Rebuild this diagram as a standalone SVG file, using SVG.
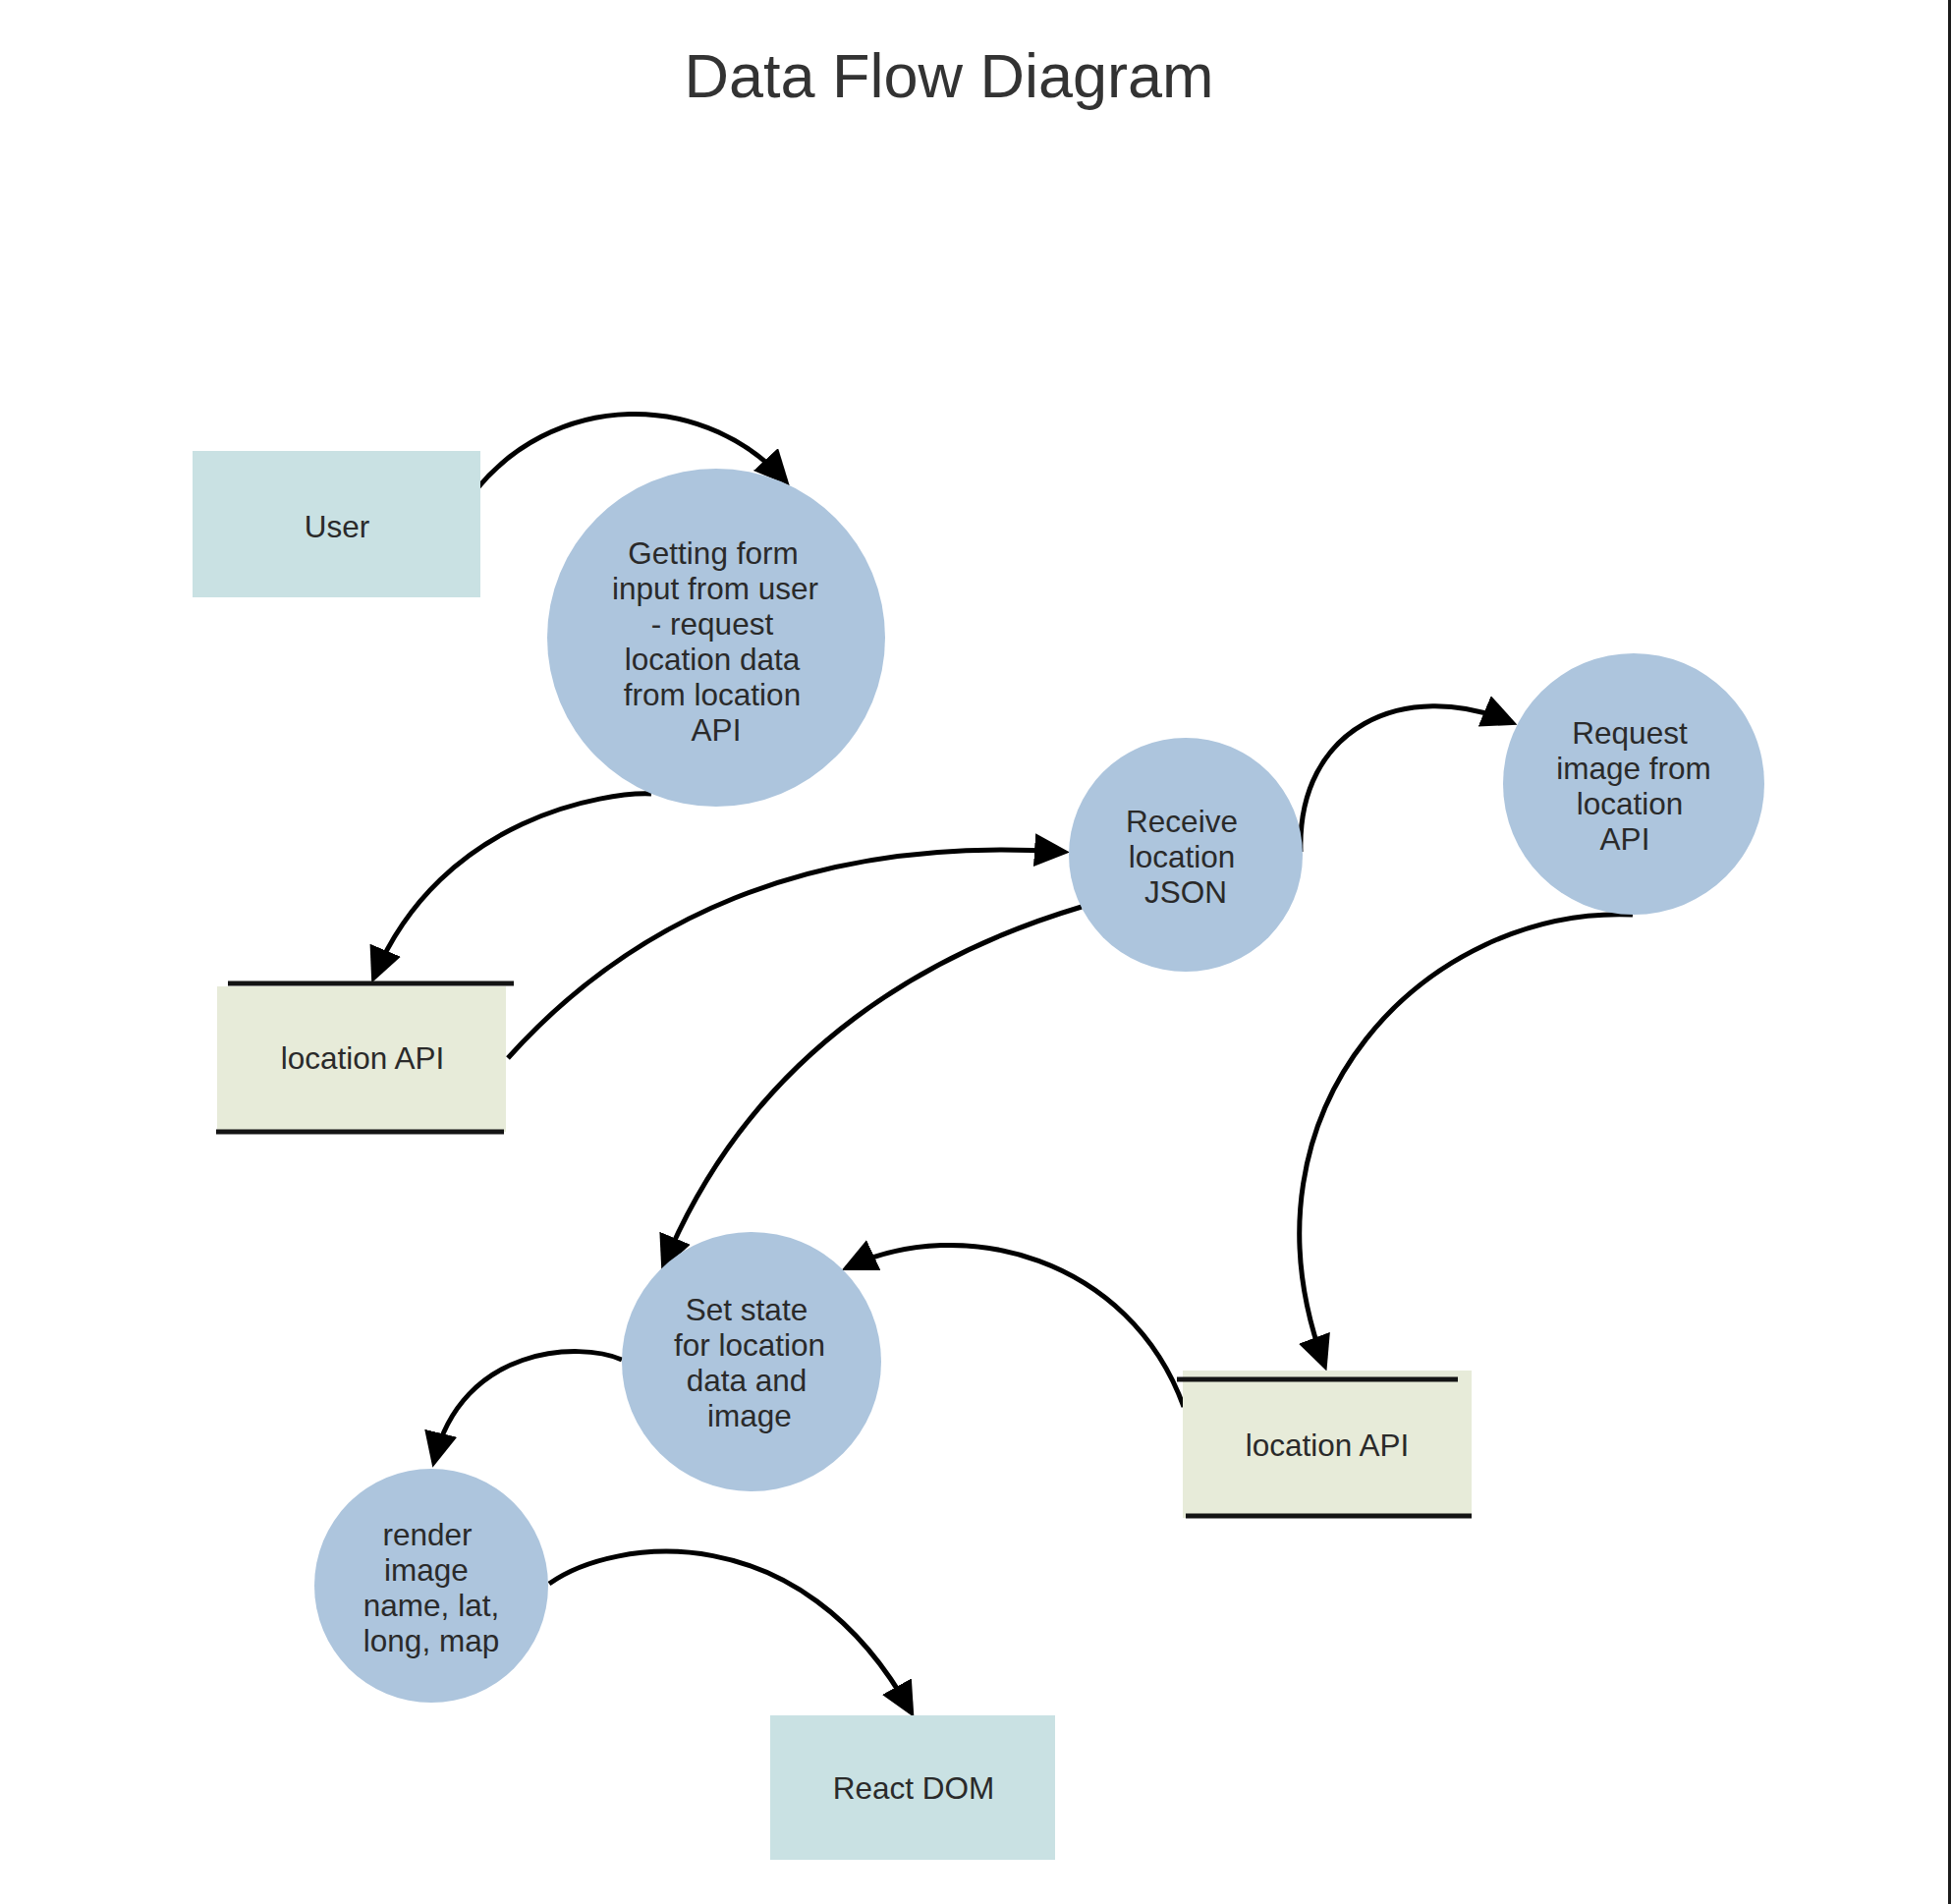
<svg xmlns="http://www.w3.org/2000/svg" width="1986" height="1938" viewBox="0 0 1986 1938">
<style>
  .title { font-family: "Liberation Sans", Arial, sans-serif; font-size: 63px; fill: #333333; text-anchor: middle; }
  .lbl { font-family: "Liberation Sans", Arial, sans-serif; font-size: 31.5px; fill: #2a2a2a; text-anchor: middle; }
  .ext { fill: #c9e1e3; }
  .proc { fill: #adc5dd; }
  .store { fill: #e7ebd9; }
  .storeline { stroke: #141414; stroke-width: 5; fill: none; }
  .flow { fill: none; stroke: #000000; stroke-width: 5; marker-end: url(#arrow); }
</style>
<defs>
  <marker id="arrow" markerUnits="userSpaceOnUse" markerWidth="38" markerHeight="36" refX="29" refY="17" orient="auto">
    <path d="M0,0 L36,17 L0,34 Z" fill="#000000"/>
  </marker>
</defs>
<rect x="0" y="0" width="1986" height="1938" fill="#ffffff"/>
<rect x="1983" y="0" width="3" height="1938" fill="#1c1c1c"/>
<text class="title" x="966" y="99">Data Flow Diagram</text>

<g id="connectors">
  <path class="flow" d="M486,497 A207,207 0 0 1 799,489"/>
  <path class="flow" d="M663,808 C620,806 450,830 381,994"/>
  <path class="flow" d="M517,1077 C640,940 820,850 1082,867"/>
  <path class="flow" d="M1324,867 C1320,740 1430,690 1538,735"/>
  <path class="flow" d="M1662,931 C1455,922 1250,1125 1348,1389"/>
  <path class="flow" d="M1205,1432 C1150,1280 980,1235 863,1290"/>
  <path class="flow" d="M1101,923 C960,965 770,1060 676,1287"/>
  <path class="flow" d="M633,1384 C590,1365 470,1370 442,1487"/>
  <path class="flow" d="M559,1612 C625,1565 815,1540 927,1742"/>
</g>

<g id="user">
  <rect class="ext" x="196" y="459" width="293" height="149"/>
  <text class="lbl" x="343" y="547">User</text>
</g>

<g id="getting-form">
  <circle class="proc" cx="729" cy="649" r="172"/>
  <text class="lbl" x="726" y="574">Getting form</text>
  <text class="lbl" x="728" y="610">input from user</text>
  <text class="lbl" x="725" y="646">- request</text>
  <text class="lbl" x="725" y="682">location data</text>
  <text class="lbl" x="725" y="718">from location</text>
  <text class="lbl" x="729" y="754">API</text>
</g>

<g id="location-api-1">
  <rect class="store" x="221" y="1004" width="294" height="148"/>
  <line class="storeline" x1="232" y1="1001" x2="523" y2="1001"/>
  <line class="storeline" x1="220" y1="1152" x2="513" y2="1152"/>
  <text class="lbl" x="369" y="1088">location API</text>
</g>

<g id="receive-json">
  <circle class="proc" cx="1207" cy="870" r="119"/>
  <text class="lbl" x="1203" y="847">Receive</text>
  <text class="lbl" x="1203" y="883">location</text>
  <text class="lbl" x="1207" y="919">JSON</text>
</g>

<g id="request-image">
  <circle class="proc" cx="1663" cy="798" r="133"/>
  <text class="lbl" x="1659" y="757">Request</text>
  <text class="lbl" x="1663" y="793">image from</text>
  <text class="lbl" x="1659" y="829">location</text>
  <text class="lbl" x="1654" y="865">API</text>
</g>

<g id="location-api-2">
  <rect class="store" x="1204" y="1395" width="294" height="150"/>
  <line class="storeline" x1="1198" y1="1404" x2="1484" y2="1404"/>
  <line class="storeline" x1="1207" y1="1543" x2="1498" y2="1543"/>
  <text class="lbl" x="1351" y="1482">location API</text>
</g>

<g id="set-state">
  <circle class="proc" cx="765" cy="1386" r="132"/>
  <text class="lbl" x="760" y="1344">Set state</text>
  <text class="lbl" x="763" y="1380">for location</text>
  <text class="lbl" x="760" y="1416">data and</text>
  <text class="lbl" x="763" y="1452">image</text>
</g>

<g id="render">
  <circle class="proc" cx="439" cy="1614" r="119"/>
  <text class="lbl" x="435" y="1573">render</text>
  <text class="lbl" x="434" y="1609">image</text>
  <text class="lbl" x="439" y="1645">name, lat,</text>
  <text class="lbl" x="439" y="1681">long, map</text>
</g>

<g id="react-dom">
  <rect class="ext" x="784" y="1746" width="290" height="147"/>
  <text class="lbl" x="930" y="1831">React DOM</text>
</g>
</svg>
